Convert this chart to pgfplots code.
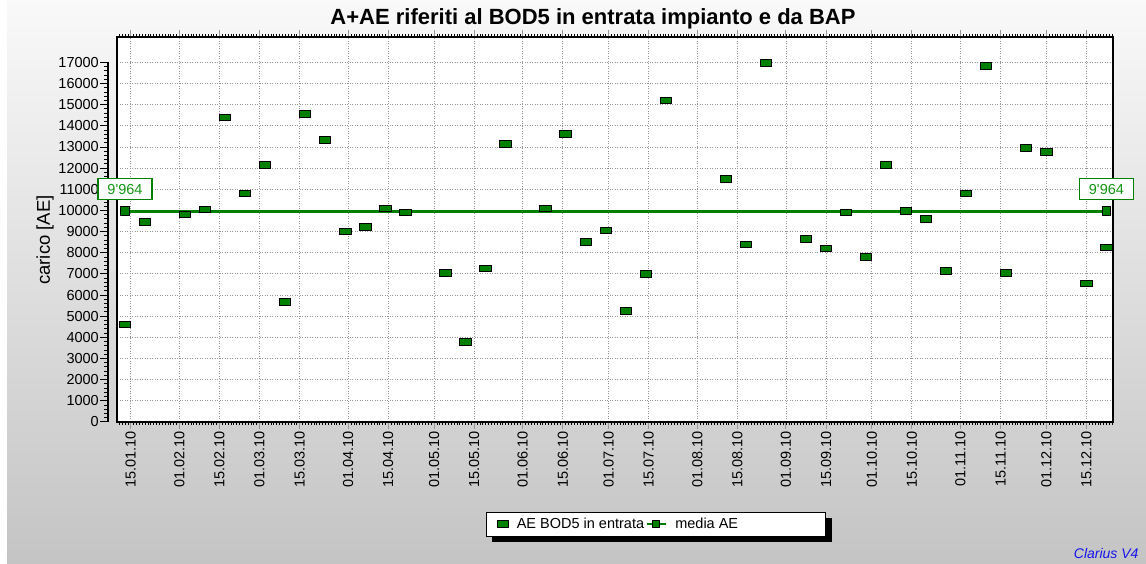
\documentclass[border=0pt]{standalone}
\usepackage{pgfplots}
\pgfplotsset{compat=1.18}
\usepackage{fontspec}
\setmainfont{Liberation Sans}
\definecolor{aegreen}{RGB}{0,128,0}
\definecolor{lblgreen}{RGB}{20,150,20}
\definecolor{gridgray}{RGB}{150,150,150}
\definecolor{bgtop}{RGB}{249,249,249}
\definecolor{bgbot}{RGB}{196,196,196}
\definecolor{clarius}{RGB}{20,20,235}

\begin{document}
\begin{tikzpicture}[x=1pt,y=1pt]
\path[use as bounding box] (0,0) rectangle (1146,564);
\shade[top color=bgtop, bottom color=bgbot] (0,0) rectangle (1146,564);
\fill[white] (0,0) rectangle (7,564);
% shadow behind the legend box
\fill[black] (492,21.5) rectangle (832,45.5);

% separate y axis with the tick labels
\begin{axis}[
  at={(108pt,142pt)}, anchor=south west,
  scale only axis, width=1pt, height=359.6pt,
  xmin=0, xmax=1, ymin=0, ymax=17000,
  hide x axis,
  axis y line*=left,
  y axis line style={line width=2.2pt, -},
  ytick distance=1000, minor y tick num=4,
  scaled y ticks=false,
  tick align=outside,
  major tick length=8pt, minor tick length=4pt,
  ytick style={line width=1pt, black},
  yticklabel style={font=\fontsize{14.5}{16}\selectfont, inner sep=1pt},
  /pgf/number format/1000 sep={},
  /pgf/number format/assume math mode=true,
]
\end{axis}

\begin{axis}[
  at={(117pt,142pt)}, anchor=south west,
  scale only axis, width=996pt, height=385pt,
  xmin=9.2, xmax=357.3, ymin=0, ymax=18200,
  clip=false,
  axis background/.style={fill=white},
  axis line style={line width=1.3pt},
  xtick={14,31,45,59,73,90,104,120,134,151,165,181,195,212,226,243,257,273,287,304,318,334,348},
  xticklabels={15.01.10,01.02.10,15.02.10,01.03.10,15.03.10,01.04.10,15.04.10,01.05.10,15.05.10,01.06.10,15.06.10,01.07.10,15.07.10,01.08.10,15.08.10,01.09.10,15.09.10,01.10.10,15.10.10,01.11.10,15.11.10,01.12.10,15.12.10},
  xticklabel style={rotate=90, anchor=east, font=\fontsize{14.5}{16}\selectfont, inner sep=2pt},
  minor xtick={10,...,357},
  ytick={0,1000,...,17000}, yticklabels={},
  scaled y ticks=false,
  ytick style={draw=none},
  xmajorgrids, ymajorgrids,
  grid style={gridgray, line width=0.9pt, dash pattern=on 1pt off 1.5pt},
  tick align=outside,
  xtick style={gridgray, line width=1pt},
  major tick length=7pt, minor tick length=3pt,
  minor x tick style={black, line width=0.6pt},
  legend columns=2,
  legend cell align=left,
  legend style={at={(0.3705,-0.2655)}, anchor=west,
    draw=black, fill=white, line width=0.8pt,
    font=\fontsize{14.5}{16}\selectfont,
    inner xsep=11pt, inner ysep=4pt,
    /tikz/every odd column/.append style={column sep=6pt},
    /tikz/every even column/.append style={column sep=0pt}},
]
% mean line
\addplot[aegreen, line width=2.6pt, mark=square*, mark size=4.3pt,
  mark options={fill=aegreen, draw=black, line width=1pt},
  nodes near coords={9\textquotesingle964},
  every node near coord/.append style={draw=aegreen, line width=1.2pt, fill=white,
    text=lblgreen, font=\fontsize{14.5}{16}\selectfont, inner sep=2pt,
    minimum width=54pt, minimum height=21pt, anchor=south, yshift=11pt},
  forget plot] coordinates {(12,9964) (355,9964)};

% weekly values
\addplot[only marks, mark=square*, mark size=3.3pt,
  mark options={xscale=1.72, fill=aegreen, draw=black, line width=1pt}]
coordinates {
(12,4600) (19,9450) (33,9800) (40,10050) (47,14400) (54,10800) (61,12150)
(68,5680) (75,14550) (82,13330) (89,9000) (96,9230) (103,10100) (110,9900)
(124,7050) (131,3780) (138,7250) (145,13150) (159,10100) (166,13620)
(173,8500) (180,9050) (187,5250) (194,7000) (201,15200) (222,11500)
(229,8400) (236,16980) (250,8650) (257,8200) (264,9900) (271,7800)
(278,12150) (285,9980) (292,9600) (299,7130) (306,10800) (313,16830)
(320,7050) (327,12950) (334,12750) (348,6550) (355,8250)
};
\addlegendentry{AE BOD5 in entrata}
\addlegendimage{legend image code/.code={
  \draw[aegreen, line width=2.2pt] (0pt,0pt) -- (19pt,0pt);
  \filldraw[fill=aegreen, draw=black, line width=0.8pt] (5.5pt,-3.6pt) rectangle (12.5pt,3.6pt);}}
\addlegendentry{media AE\hspace*{74pt}\mbox{}}
\end{axis}

\node[anchor=base, font=\bfseries\fontsize{22}{24}\selectfont] at (593,539)
  {A+AE riferiti al BOD5 in entrata impianto e da BAP};
\node[rotate=90, font=\fontsize{18.5}{20}\selectfont] at (45,324) {carico [AE]};
\node[anchor=base east, text=clarius, font=\itshape\fontsize{14}{16}\selectfont]
  at (1142,5) {Clarius V4};
\end{tikzpicture}
\end{document}
